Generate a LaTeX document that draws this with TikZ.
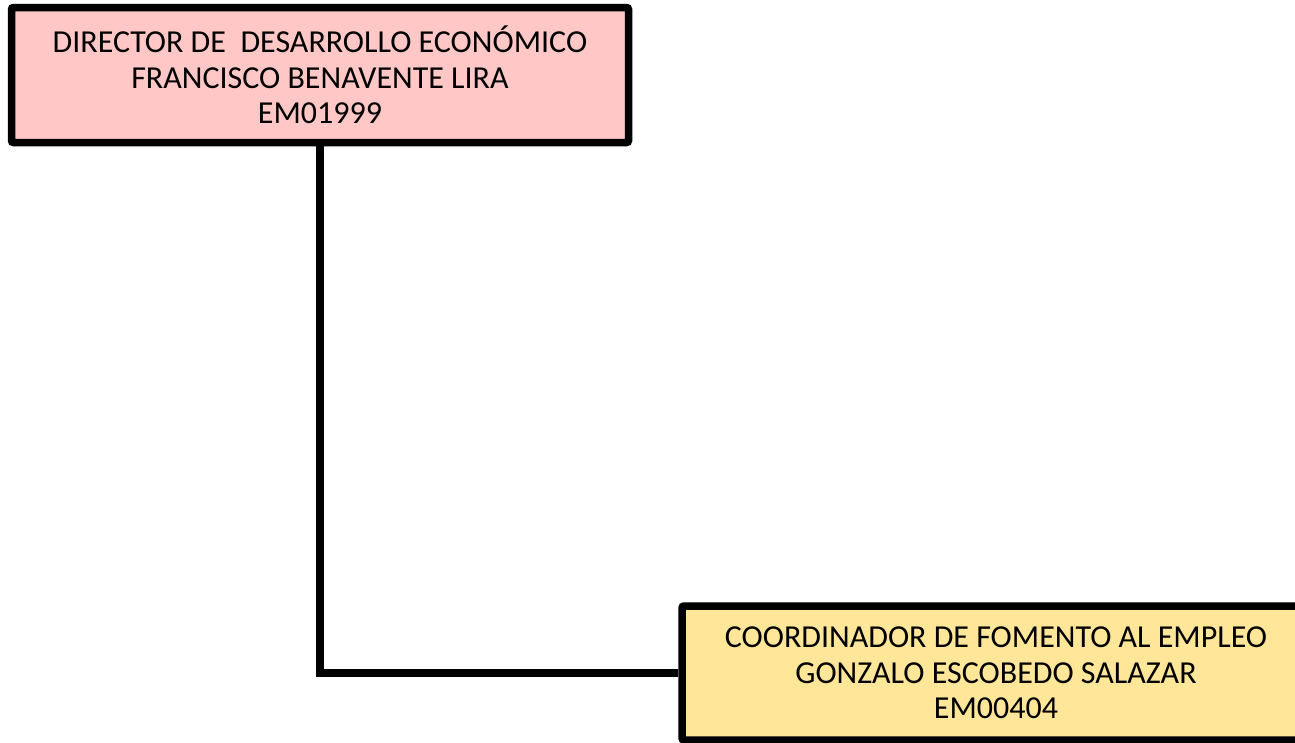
\documentclass[tikz,border=0pt]{standalone}
\usepackage{fontspec}
\setmainfont{Carlito}
\usetikzlibrary{calc}
\definecolor{boxpink}{RGB}{255,199,198}
\definecolor{boxgold}{RGB}{255,230,153}

\begin{document}
\begin{tikzpicture}[x=1pt,y=-1pt]
	\useasboundingbox (0,0) rectangle (1295,742);
	\begin{scope} [every node/.style={draw=black, line width=7.5pt, rounded corners=2pt, align=center, font=\fontsize{32}{35.5}\selectfont}]
		\node[fill=boxpink, minimum width=617pt, minimum height=135pt] (director) at (320,75)
			{DIRECTOR DE\ \ DESARROLLO ECONÓMICO\\FRANCISCO BENAVENTE LIRA\\EM01999};
		\node[fill=boxgold, minimum width=628pt, minimum height=134pt] (fomento) at (996,673)
			{COORDINADOR DE FOMENTO AL EMPLEO\\GONZALO ESCOBEDO SALAZAR\\EM00404};
	\end{scope}
	\draw[line width=7.5pt] (director.south) |- (fomento.west);
\end{tikzpicture}
\end{document}
